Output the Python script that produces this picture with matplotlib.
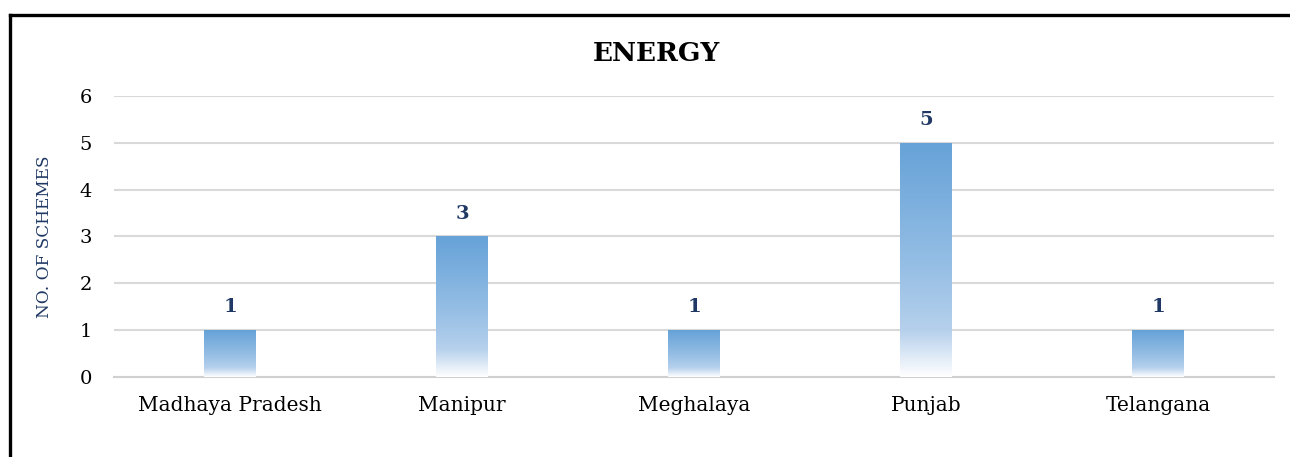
import matplotlib
matplotlib.use("Agg")
import matplotlib.pyplot as plt
import numpy as np
from matplotlib.colors import LinearSegmentedColormap
from matplotlib.lines import Line2D

# data
states = ["Madhaya Pradesh", "Manipur", "Meghalaya", "Punjab", "Telangana"]
schemes = [1, 3, 1, 5, 1]
y_ticks = [0, 1, 2, 3, 4, 5, 6]

plt.rcParams['font.family'] = ['DejaVu Serif']

fig = plt.figure(figsize=(12.9, 4.57), dpi=100)
ax = fig.add_axes([0.0884, 0.175, 0.8992, 0.615])

# gradient from white (bottom) to blue (top)
cmap = LinearSegmentedColormap.from_list(
    "bar_grad",
    [(0.0, "#ffffff"), (0.2, "#b5d0ec"), (0.5, "#93bde4"), (1.0, "#66a2d8")])
grad = np.linspace(0, 1, 256).reshape(-1, 1)

x = np.arange(len(states))
width = 0.224
bars = ax.bar(x, schemes, width=width, color="none", edgecolor="none", zorder=3)
for b, v in zip(bars, schemes):
    x0 = b.get_x()
    im = ax.imshow(grad, cmap=cmap, origin="lower", aspect="auto",
                   extent=[x0, x0 + b.get_width(), 0, v], zorder=3)
    im.set_clip_path(b)
    ax.annotate(str(v), (b.get_x() + b.get_width() / 2, v),
                xytext=(0, 10), textcoords="offset points",
                ha="center", va="bottom", fontsize=14, fontweight="bold",
                color="#1f3864")

ax.set_xlim(-0.5, len(states) - 0.5)
ax.set_ylim(0, 6)
ax.set_yticks(y_ticks)
ax.set_xticks(x)
ax.set_xticklabels(states, fontsize=14.5)
ax.tick_params(axis="both", length=0, colors="black")
ax.tick_params(axis="y", labelsize=14)
ax.tick_params(axis="x", pad=14)
ax.tick_params(axis="y", pad=16)
ax.grid(axis="y", color="#d9d9d9", linewidth=1.5, zorder=0)
ax.set_axisbelow(True)
for s in ["top", "right", "left"]:
    ax.spines[s].set_visible(False)
ax.spines["bottom"].set_color("#d0d0d0")
ax.spines["bottom"].set_linewidth(1.5)

ax.set_ylabel("NO. OF SCHEMES", fontsize=12.2, color="#1f3864")
ax.yaxis.set_label_coords(-0.053, 0.5)

fig.text(0.5085, 0.884, "ENERGY", ha="center", va="center",
         fontsize=19, fontweight="bold", color="black")

# outer frame (top and left edges visible)
fig.add_artist(Line2D([0.0074, 1.0], [0.967, 0.967], color="black", linewidth=2.4))
fig.add_artist(Line2D([0.0074, 0.0074], [0.0, 0.967], color="black", linewidth=2.4))

fig.savefig("out.png", dpi=100)
